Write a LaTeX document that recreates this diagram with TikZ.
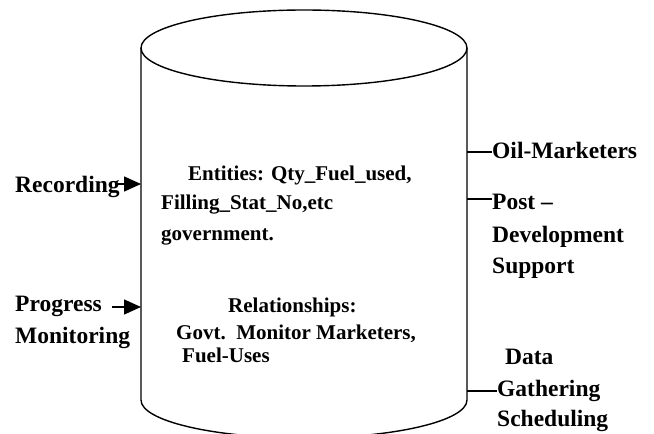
\documentclass[tikz,border=0pt]{standalone}
\usepackage{fontspec}
\setmainfont{Liberation Serif}
\usetikzlibrary{arrows.meta}
\tikzset{
  lbl/.style={anchor=base west,inner sep=0pt,font=\fontsize{23.5}{28}\selectfont\bfseries},
  inlbl/.style={anchor=base west,inner sep=0pt,font=\fontsize{21}{25}\selectfont\bfseries},
  wall/.style={line width=1.4pt},
  conn/.style={line width=1.4pt},
  arr/.style={line width=1.4pt,-{Triangle[length=17pt,width=15pt]}}
}
\begin{document}
\begin{tikzpicture}[x=1pt,y=1pt]
\useasboundingbox (0,0) rectangle (654,434);
% cylinder
\draw[wall] (304,386) ellipse [x radius=163pt,y radius=38pt];
\draw[wall] (141,386) -- (141,34) arc[start angle=180,end angle=360,x radius=163pt,y radius=38pt] -- (467,386);
% wall coordinates
\coordinate (wRec) at (141,250);
\coordinate (wProg) at (141,127);
\coordinate (wOil) at (467,282);
\coordinate (wPost) at (467,235);
\coordinate (wData) at (467,43);
% inner text
\node[inlbl] (ent) at (188,253) {Entities: Qty\_Fuel\_used,};
\node[inlbl] (fill) at (161,224) {Filling\_Stat\_No,etc};
\node[inlbl] (gov) at (161,193) {government.};
\node[inlbl] (rel) at (228,121) {Relationships:};
\node[inlbl] (govt) at (176,94) {Govt.\ \ Monitor Marketers,};
\node[inlbl] (fuel) at (182,71) {Fuel-Uses};
% left labels
\node[lbl] (rec) at (15,241) {Recording};
\node[lbl] (prog) at (15,122) {Progress};
\node[lbl] (mon) at (15,90) {Monitoring};
\coordinate (sRec) at (118,250);
\coordinate (sProg) at (112,127);
\draw[arr] (sRec) -- (wRec);
\draw[arr] (sProg) -- (wProg);
% right labels
\node[lbl] (oil) at (492,275) {Oil-Marketers};
\node[lbl] (post) at (492,224) {Post –};
\node[lbl] (dev) at (492,191) {Development};
\node[lbl] (sup) at (492,160) {Support};
\node[lbl] (data) at (505,69) {Data};
\node[lbl] (gath) at (497,37) {Gathering};
\node[lbl] (sched) at (497,7) {Scheduling};
\draw[conn] (wOil) -- (wOil -| oil.west);
\draw[conn] (wPost) -- (wPost -| post.west);
\draw[conn] (wData) -- (wData -| gath.west);
\end{tikzpicture}
\end{document}
